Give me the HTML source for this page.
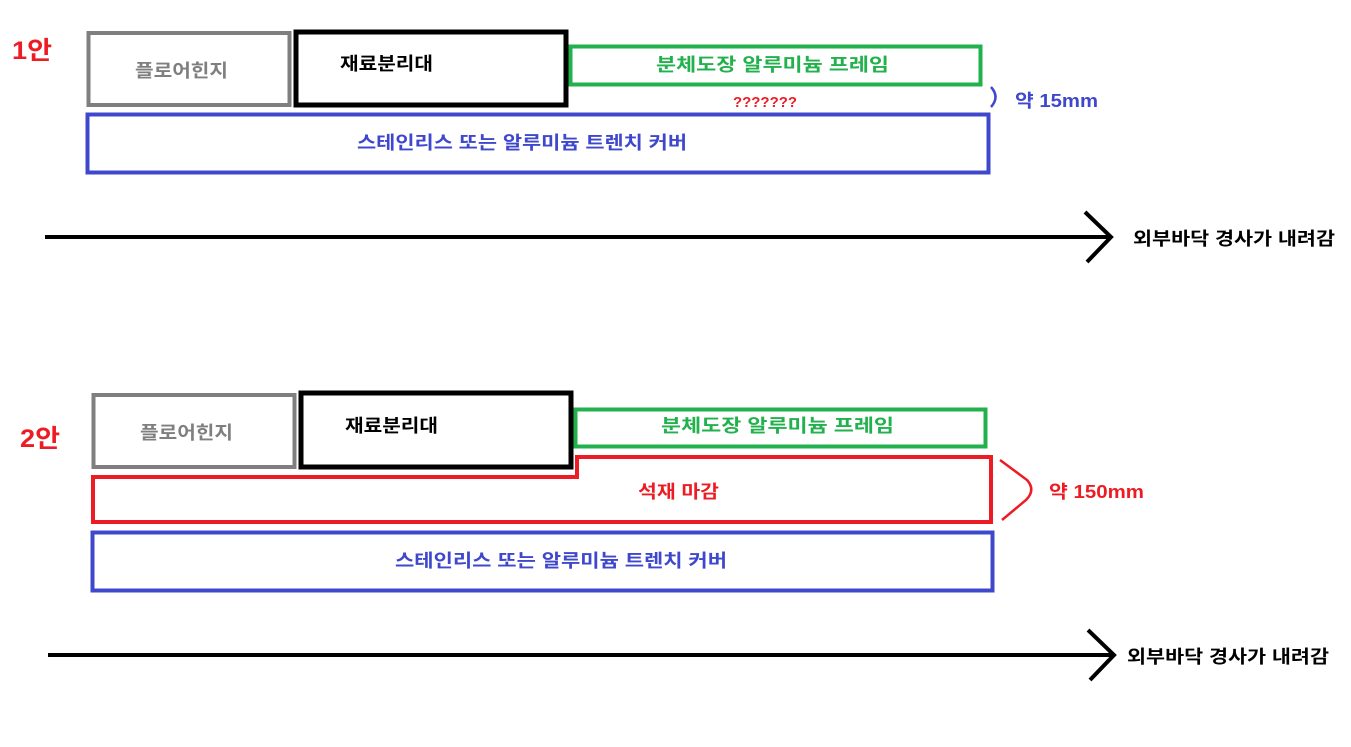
<!DOCTYPE html>
<html><head><meta charset="utf-8"><style>
html,body{margin:0;padding:0;background:#fff;width:1351px;height:747px;overflow:hidden}
text{font-family:"Liberation Sans","Noto Sans CJK KR",sans-serif;font-weight:bold}
</style></head><body>
<svg width="1351" height="747" viewBox="0 0 1351 747" xmlns="http://www.w3.org/2000/svg">
<g fill="none" stroke-linejoin="miter">
<rect x="88.5" y="33" width="201" height="72" stroke="#7f7f7f" stroke-width="4"/>
<rect x="296" y="32" width="270" height="73" stroke="#000" stroke-width="5"/>
<rect x="570.5" y="46.5" width="410" height="38" stroke="#22b14c" stroke-width="4"/>
<rect x="87.5" y="114.5" width="901" height="58" stroke="#3f48cc" stroke-width="4"/>
<path d="M991 87 Q1000 97 991 107" stroke="#3f48cc" stroke-width="2.5"/>
<line x1="45" y1="237" x2="1110" y2="237" stroke="#000" stroke-width="4"/>
<polyline points="1085,212 1111,237 1087,262" stroke="#000" stroke-width="4"/>
<rect x="93.5" y="395" width="201" height="72" stroke="#7f7f7f" stroke-width="4"/>
<rect x="301" y="393" width="270" height="74" stroke="#000" stroke-width="5"/>
<rect x="575.5" y="409.5" width="410" height="37" stroke="#22b14c" stroke-width="4"/>
<polygon points="93,477 577,477 577,457 991,457 991,522 93,522" stroke="#ed1c24" stroke-width="4"/>
<rect x="92.5" y="532.5" width="900" height="58" stroke="#3f48cc" stroke-width="4"/>
<path d="M1000 460 L1027 480 Q1036 490 1026 500 L1002 520" stroke="#ed1c24" stroke-width="2.5"/>
<line x1="48" y1="655" x2="1113" y2="655" stroke="#000" stroke-width="4"/>
<polyline points="1088,630 1114,655 1090,680" stroke="#000" stroke-width="4"/>
</g>
<g font-size="18">
<text x="12" y="59" font-size="25" fill="#ed1c24" textLength="40" lengthAdjust="spacingAndGlyphs">1안</text>
<text x="135" y="77" fill="#7f7f7f" textLength="93" lengthAdjust="spacingAndGlyphs">플로어힌지</text>
<text x="340" y="70" fill="#000" textLength="93" lengthAdjust="spacingAndGlyphs">재료분리대</text>
<text x="656" y="71" fill="#22b14c" textLength="233" lengthAdjust="spacingAndGlyphs">분체도장 알루미늄 프레임</text>
<text x="733" y="107" font-size="15" fill="#ed1c24" textLength="64" lengthAdjust="spacingAndGlyphs">???????</text>
<text x="1015" y="107" fill="#3f48cc" textLength="83" lengthAdjust="spacingAndGlyphs">약 15mm</text>
<text x="357" y="149" fill="#3f48cc" textLength="330" lengthAdjust="spacingAndGlyphs">스테인리스 또는 알루미늄 트렌치 커버</text>
<text x="1133" y="245" fill="#000" textLength="202" lengthAdjust="spacingAndGlyphs">외부바닥 경사가 내려감</text>

<text x="20" y="447" font-size="25" fill="#ed1c24" textLength="40" lengthAdjust="spacingAndGlyphs">2안</text>
<text x="140" y="439" fill="#7f7f7f" textLength="93" lengthAdjust="spacingAndGlyphs">플로어힌지</text>
<text x="345" y="432" fill="#000" textLength="93" lengthAdjust="spacingAndGlyphs">재료분리대</text>
<text x="661" y="432" fill="#22b14c" textLength="233" lengthAdjust="spacingAndGlyphs">분체도장 알루미늄 프레임</text>
<text x="638" y="498" fill="#ed1c24" textLength="81" lengthAdjust="spacingAndGlyphs">석재 마감</text>
<text x="1049" y="498" fill="#ed1c24" textLength="95" lengthAdjust="spacingAndGlyphs">약 150mm</text>
<text x="395" y="567" fill="#3f48cc" textLength="332" lengthAdjust="spacingAndGlyphs">스테인리스 또는 알루미늄 트렌치 커버</text>
<text x="1127" y="663" fill="#000" textLength="202" lengthAdjust="spacingAndGlyphs">외부바닥 경사가 내려감</text>
</g>
</svg>
</body></html>
